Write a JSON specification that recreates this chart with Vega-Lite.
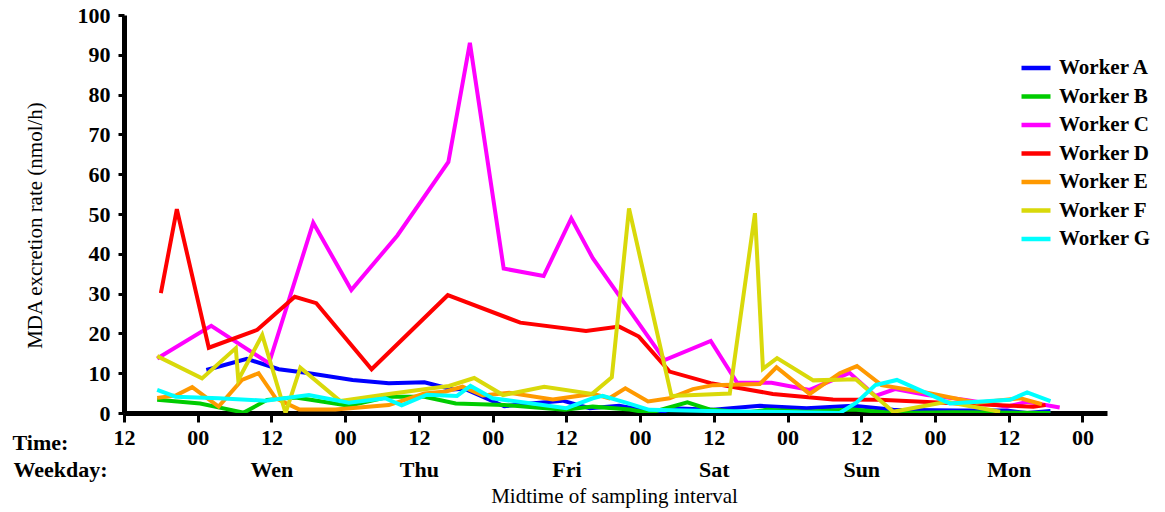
{
  "$schema": "https://vega.github.io/schema/vega-lite/v6.json",
  "width": 983,
  "height": 398,
  "autosize": {"type": "none"},
  "padding": {"left": 124, "top": 15, "right": 58, "bottom": 99},
  "background": "white",
  "config": {"view": {"stroke": null}, "font": "Liberation Serif"},
  "datasets": {
    "series": [
      {"worker": "Worker A", "h": 13.4, "v": 10.8},
      {"worker": "Worker A", "h": 20.0, "v": 13.6},
      {"worker": "Worker A", "h": 25.2, "v": 11.0},
      {"worker": "Worker A", "h": 29.6, "v": 10.1},
      {"worker": "Worker A", "h": 37.2, "v": 8.3},
      {"worker": "Worker A", "h": 43.1, "v": 7.5},
      {"worker": "Worker A", "h": 48.9, "v": 7.7},
      {"worker": "Worker A", "h": 53.5, "v": 5.9},
      {"worker": "Worker A", "h": 55.4, "v": 6.1},
      {"worker": "Worker A", "h": 61.9, "v": 1.7},
      {"worker": "Worker A", "h": 66.2, "v": 2.4},
      {"worker": "Worker A", "h": 71.4, "v": 3.1},
      {"worker": "Worker A", "h": 75.8, "v": 1.2},
      {"worker": "Worker A", "h": 80.6, "v": 1.8},
      {"worker": "Worker A", "h": 87.2, "v": 0.0},
      {"worker": "Worker A", "h": 89.3, "v": 1.2},
      {"worker": "Worker A", "h": 95.9, "v": 0.8},
      {"worker": "Worker A", "h": 103.5, "v": 1.8},
      {"worker": "Worker A", "h": 111.1, "v": 1.2},
      {"worker": "Worker A", "h": 118.7, "v": 1.8},
      {"worker": "Worker A", "h": 125.2, "v": 0.8},
      {"worker": "Worker A", "h": 135.5, "v": 0.6},
      {"worker": "Worker A", "h": 143.7, "v": 0.6},
      {"worker": "Worker A", "h": 147.0, "v": 0.0},
      {"worker": "Worker A", "h": 150.8, "v": 0.5},
      {"worker": "Worker B", "h": 5.4, "v": 3.3},
      {"worker": "Worker B", "h": 12.4, "v": 2.4},
      {"worker": "Worker B", "h": 19.5, "v": 0.1},
      {"worker": "Worker B", "h": 23.3, "v": 3.3},
      {"worker": "Worker B", "h": 27.9, "v": 3.9},
      {"worker": "Worker B", "h": 30.1, "v": 3.4},
      {"worker": "Worker B", "h": 36.6, "v": 1.8},
      {"worker": "Worker B", "h": 43.1, "v": 4.1},
      {"worker": "Worker B", "h": 48.9, "v": 4.1},
      {"worker": "Worker B", "h": 54.0, "v": 2.4},
      {"worker": "Worker B", "h": 61.9, "v": 2.0},
      {"worker": "Worker B", "h": 71.7, "v": 0.8},
      {"worker": "Worker B", "h": 76.3, "v": 1.6},
      {"worker": "Worker B", "h": 82.3, "v": 0.9},
      {"worker": "Worker B", "h": 85.5, "v": 0.0},
      {"worker": "Worker B", "h": 91.7, "v": 2.7},
      {"worker": "Worker B", "h": 95.3, "v": 0.9},
      {"worker": "Worker B", "h": 101.3, "v": 0.1},
      {"worker": "Worker B", "h": 104.6, "v": 0.8},
      {"worker": "Worker B", "h": 111.1, "v": 0.3},
      {"worker": "Worker B", "h": 118.7, "v": 0.9},
      {"worker": "Worker B", "h": 125.2, "v": 0.0},
      {"worker": "Worker B", "h": 135.0, "v": 0.2},
      {"worker": "Worker B", "h": 150.8, "v": 0.0},
      {"worker": "Worker C", "h": 5.4, "v": 13.7},
      {"worker": "Worker C", "h": 14.2, "v": 21.9},
      {"worker": "Worker C", "h": 23.6, "v": 12.5},
      {"worker": "Worker C", "h": 30.8, "v": 47.8},
      {"worker": "Worker C", "h": 37.0, "v": 30.9},
      {"worker": "Worker C", "h": 44.5, "v": 44.6},
      {"worker": "Worker C", "h": 52.8, "v": 63.1},
      {"worker": "Worker C", "h": 56.3, "v": 93.0},
      {"worker": "Worker C", "h": 61.8, "v": 36.3},
      {"worker": "Worker C", "h": 68.3, "v": 34.4},
      {"worker": "Worker C", "h": 72.8, "v": 48.9},
      {"worker": "Worker C", "h": 76.3, "v": 38.9},
      {"worker": "Worker C", "h": 88.0, "v": 13.3},
      {"worker": "Worker C", "h": 95.5, "v": 18.1},
      {"worker": "Worker C", "h": 99.8, "v": 7.6},
      {"worker": "Worker C", "h": 105.4, "v": 7.6},
      {"worker": "Worker C", "h": 111.6, "v": 5.8},
      {"worker": "Worker C", "h": 118.1, "v": 10.1},
      {"worker": "Worker C", "h": 122.3, "v": 4.3},
      {"worker": "Worker C", "h": 125.5, "v": 6.0},
      {"worker": "Worker C", "h": 130.7, "v": 4.5},
      {"worker": "Worker C", "h": 137.0, "v": 3.3},
      {"worker": "Worker C", "h": 143.7, "v": 1.6},
      {"worker": "Worker C", "h": 147.0, "v": 2.8},
      {"worker": "Worker C", "h": 152.3, "v": 1.4},
      {"worker": "Worker D", "h": 6.0, "v": 30.1},
      {"worker": "Worker D", "h": 8.6, "v": 51.2},
      {"worker": "Worker D", "h": 13.8, "v": 16.4},
      {"worker": "Worker D", "h": 21.7, "v": 20.9},
      {"worker": "Worker D", "h": 27.8, "v": 29.2},
      {"worker": "Worker D", "h": 31.3, "v": 27.6},
      {"worker": "Worker D", "h": 40.3, "v": 11.0},
      {"worker": "Worker D", "h": 52.7, "v": 29.6},
      {"worker": "Worker D", "h": 64.5, "v": 22.7},
      {"worker": "Worker D", "h": 75.2, "v": 20.6},
      {"worker": "Worker D", "h": 80.6, "v": 21.7},
      {"worker": "Worker D", "h": 83.8, "v": 19.2},
      {"worker": "Worker D", "h": 88.8, "v": 10.4},
      {"worker": "Worker D", "h": 95.5, "v": 7.5},
      {"worker": "Worker D", "h": 105.6, "v": 4.8},
      {"worker": "Worker D", "h": 115.4, "v": 3.4},
      {"worker": "Worker D", "h": 123.0, "v": 3.3},
      {"worker": "Worker D", "h": 136.0, "v": 2.4},
      {"worker": "Worker D", "h": 148.0, "v": 1.6},
      {"worker": "Worker D", "h": 150.0, "v": 2.0},
      {"worker": "Worker E", "h": 5.4, "v": 3.8},
      {"worker": "Worker E", "h": 8.4, "v": 4.4},
      {"worker": "Worker E", "h": 11.1, "v": 6.5},
      {"worker": "Worker E", "h": 15.4, "v": 1.6},
      {"worker": "Worker E", "h": 19.2, "v": 8.3},
      {"worker": "Worker E", "h": 21.9, "v": 10.0},
      {"worker": "Worker E", "h": 24.7, "v": 3.7},
      {"worker": "Worker E", "h": 28.5, "v": 0.9},
      {"worker": "Worker E", "h": 34.4, "v": 0.9},
      {"worker": "Worker E", "h": 43.1, "v": 2.0},
      {"worker": "Worker E", "h": 48.9, "v": 4.9},
      {"worker": "Worker E", "h": 52.4, "v": 5.4},
      {"worker": "Worker E", "h": 55.1, "v": 6.6},
      {"worker": "Worker E", "h": 58.4, "v": 4.4},
      {"worker": "Worker E", "h": 62.7, "v": 5.1},
      {"worker": "Worker E", "h": 69.8, "v": 3.4},
      {"worker": "Worker E", "h": 76.3, "v": 4.8},
      {"worker": "Worker E", "h": 79.0, "v": 3.7},
      {"worker": "Worker E", "h": 81.6, "v": 6.2},
      {"worker": "Worker E", "h": 85.3, "v": 2.9},
      {"worker": "Worker E", "h": 88.8, "v": 3.7},
      {"worker": "Worker E", "h": 92.6, "v": 6.0},
      {"worker": "Worker E", "h": 95.9, "v": 7.0},
      {"worker": "Worker E", "h": 103.5, "v": 7.3},
      {"worker": "Worker E", "h": 106.2, "v": 11.5},
      {"worker": "Worker E", "h": 111.6, "v": 4.8},
      {"worker": "Worker E", "h": 116.5, "v": 10.0},
      {"worker": "Worker E", "h": 119.3, "v": 11.8},
      {"worker": "Worker E", "h": 123.3, "v": 7.0},
      {"worker": "Worker E", "h": 130.7, "v": 5.1},
      {"worker": "Worker E", "h": 138.8, "v": 2.6},
      {"worker": "Worker E", "h": 145.9, "v": 3.7},
      {"worker": "Worker E", "h": 149.4, "v": 2.2},
      {"worker": "Worker F", "h": 5.4, "v": 14.3},
      {"worker": "Worker F", "h": 12.7, "v": 8.7},
      {"worker": "Worker F", "h": 18.2, "v": 16.3},
      {"worker": "Worker F", "h": 18.6, "v": 8.3},
      {"worker": "Worker F", "h": 22.5, "v": 19.6},
      {"worker": "Worker F", "h": 26.3, "v": 0.0},
      {"worker": "Worker F", "h": 28.7, "v": 11.4},
      {"worker": "Worker F", "h": 35.2, "v": 3.0},
      {"worker": "Worker F", "h": 43.7, "v": 4.9},
      {"worker": "Worker F", "h": 52.9, "v": 6.8},
      {"worker": "Worker F", "h": 57.0, "v": 8.8},
      {"worker": "Worker F", "h": 61.7, "v": 4.5},
      {"worker": "Worker F", "h": 68.4, "v": 6.6},
      {"worker": "Worker F", "h": 76.2, "v": 4.8},
      {"worker": "Worker F", "h": 79.4, "v": 9.0},
      {"worker": "Worker F", "h": 82.2, "v": 51.4},
      {"worker": "Worker F", "h": 89.1, "v": 4.3},
      {"worker": "Worker F", "h": 98.6, "v": 4.9},
      {"worker": "Worker F", "h": 102.7, "v": 50.2},
      {"worker": "Worker F", "h": 104.0, "v": 11.1},
      {"worker": "Worker F", "h": 106.3, "v": 13.8},
      {"worker": "Worker F", "h": 112.2, "v": 8.2},
      {"worker": "Worker F", "h": 119.1, "v": 8.5},
      {"worker": "Worker F", "h": 125.2, "v": 0.3},
      {"worker": "Worker F", "h": 133.9, "v": 2.8},
      {"worker": "Worker F", "h": 142.6, "v": 0.3},
      {"worker": "Worker G", "h": 5.4, "v": 5.8},
      {"worker": "Worker G", "h": 8.4, "v": 4.1},
      {"worker": "Worker G", "h": 15.4, "v": 3.7},
      {"worker": "Worker G", "h": 23.0, "v": 3.1},
      {"worker": "Worker G", "h": 30.1, "v": 4.5},
      {"worker": "Worker G", "h": 36.6, "v": 2.6},
      {"worker": "Worker G", "h": 42.5, "v": 3.7},
      {"worker": "Worker G", "h": 45.2, "v": 1.9},
      {"worker": "Worker G", "h": 49.3, "v": 4.6},
      {"worker": "Worker G", "h": 54.2, "v": 4.3},
      {"worker": "Worker G", "h": 56.4, "v": 6.8},
      {"worker": "Worker G", "h": 60.0, "v": 3.7},
      {"worker": "Worker G", "h": 72.0, "v": 1.2},
      {"worker": "Worker G", "h": 76.3, "v": 3.7},
      {"worker": "Worker G", "h": 77.9, "v": 4.3},
      {"worker": "Worker G", "h": 81.7, "v": 2.6},
      {"worker": "Worker G", "h": 85.5, "v": 0.8},
      {"worker": "Worker G", "h": 95.0, "v": 0.5},
      {"worker": "Worker G", "h": 105.0, "v": 0.3},
      {"worker": "Worker G", "h": 116.5, "v": 0.0},
      {"worker": "Worker G", "h": 119.2, "v": 2.6},
      {"worker": "Worker G", "h": 122.3, "v": 7.0},
      {"worker": "Worker G", "h": 125.8, "v": 8.3},
      {"worker": "Worker G", "h": 134.4, "v": 2.4},
      {"worker": "Worker G", "h": 144.2, "v": 3.3},
      {"worker": "Worker G", "h": 147.0, "v": 5.2},
      {"worker": "Worker G", "h": 150.8, "v": 3.0}
    ],
    "span": [{"h": 0}, {"h": 160}]
  },
  "layer": [
    {
      "data": {"name": "series"},
      "mark": {"type": "line", "strokeWidth": 4, "strokeJoin": "miter", "clip": true},
      "encoding": {
        "x": {
          "field": "h", "type": "quantitative",
          "scale": {"domain": [0, 160], "nice": false, "zero": false},
          "axis": {
            "values": [0, 12, 24, 36, 48, 60, 72, 84, 96, 108, 120, 132, 144, 156],
            "labelExpr": "datum.value % 24 == 0 ? '12' : '00'",
            "grid": false, "domainColor": "black", "domainWidth": 5,
            "tickColor": "black", "tickWidth": 3, "tickSize": 9,
            "labelFont": "Liberation Serif", "labelFontSize": 22, "labelFontWeight": "bold",
            "labelColor": "black", "labelPadding": 5, "labelFlush": false, "labelOverlap": false,
            "title": "Time:", "titleFont": "Liberation Serif", "titleFontSize": 22, "titleFontWeight": "bold",
            "titleColor": "black", "titleAngle": 0, "titleAlign": "left", "titleBaseline": "alphabetic",
            "titleX": -112, "titleY": 36
          }
        },
        "y": {
          "field": "v", "type": "quantitative",
          "scale": {"domain": [0, 100], "nice": false},
          "axis": {
            "values": [0, 10, 20, 30, 40, 50, 60, 70, 80, 90, 100],
            "grid": false, "domainColor": "black", "domainWidth": 5,
            "tickColor": "black", "tickWidth": 3, "tickSize": 6,
            "labelFont": "Liberation Serif", "labelFontSize": 22, "labelFontWeight": "bold",
            "labelColor": "black", "labelPadding": 8, "labelFlush": false, "labelOverlap": false,
            "title": "MDA excretion rate (nmol/h)", "titleFont": "Liberation Serif", "titleFontSize": 21,
            "titleFontWeight": "normal", "titleColor": "black", "titleAngle": -90,
            "titleAlign": "center", "titleBaseline": "middle", "titleX": -89, "titleY": 210
          }
        },
        "color": {
          "field": "worker", "type": "nominal",
          "scale": {
            "domain": ["Worker A", "Worker B", "Worker C", "Worker D", "Worker E", "Worker F", "Worker G"],
            "range": ["#0000ff", "#00cc00", "#ff00ff", "#ff0000", "#ff9900", "#d9d90a", "#00ffff"]
          },
          "legend": {
            "orient": "none", "legendX": 895, "legendY": 36, "title": null,
            "symbolType": "stroke", "symbolSize": 841, "symbolStrokeWidth": 4.5,
            "labelFont": "Liberation Serif", "labelFontSize": 21, "labelFontWeight": "bold",
            "labelColor": "black", "labelOffset": 6, "rowPadding": 1.5, "padding": 0
          }
        }
      }
    },
    {
      "data": {"name": "span"},
      "mark": {"type": "rule", "opacity": 0},
      "encoding": {
        "x": {
          "field": "h", "type": "quantitative",
          "scale": {"domain": [0, 160], "nice": false, "zero": false},
          "axis": {
            "orient": "bottom", "offset": 40,
            "values": [24, 48, 72, 96, 120, 144],
            "labelExpr": "['Tue','Wen','Thu','Fri','Sat','Sun','Mon'][round(datum.value / 24)]",
            "grid": false, "domain": false, "ticks": false,
            "labelFont": "Liberation Serif", "labelFontSize": 22, "labelFontWeight": "bold",
            "labelColor": "black", "labelPadding": 6, "labelFlush": false, "labelOverlap": false,
            "title": "Weekday:", "titleFont": "Liberation Serif", "titleFontSize": 22, "titleFontWeight": "bold",
            "titleColor": "black", "titleAngle": 0, "titleAlign": "left", "titleBaseline": "alphabetic",
            "titleX": -111, "titleY": 23
          }
        }
      }
    },
    {
      "data": {"name": "span"},
      "mark": {"type": "rule", "opacity": 0},
      "encoding": {
        "x": {
          "field": "h", "type": "quantitative",
          "scale": {"domain": [0, 160], "nice": false, "zero": false},
          "axis": {
            "orient": "bottom", "offset": 0,
            "grid": false, "domain": false, "ticks": false, "labels": false,
            "title": "Midtime of sampling interval", "titleFont": "Liberation Serif", "titleFontSize": 21,
            "titleFontWeight": "normal", "titleColor": "black", "titleAngle": 0, "titleAlign": "center",
            "titleBaseline": "alphabetic", "titleX": 490, "titleY": 89
          }
        }
      }
    }
  ],
  "resolve": {"axis": {"x": "independent"}}
}
